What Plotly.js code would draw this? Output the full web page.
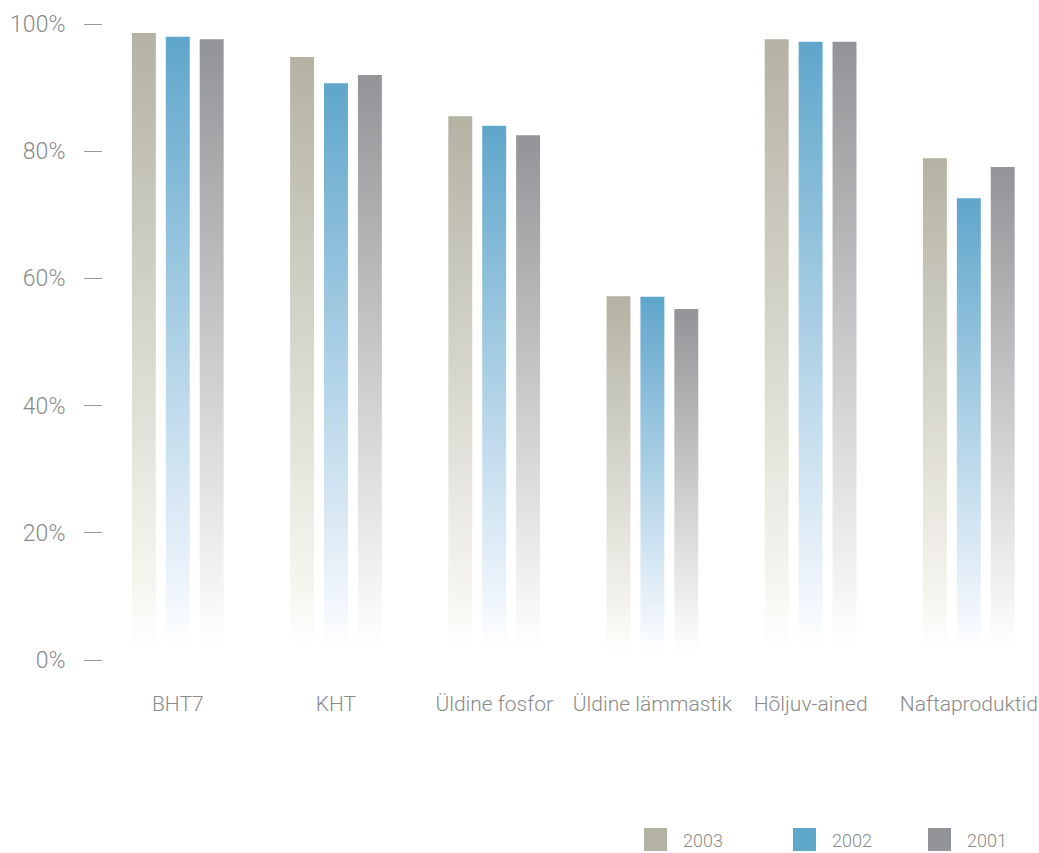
<!DOCTYPE html>
<html>
<head>
<meta charset="utf-8">
<script src="https://cdn.plot.ly/plotly-3.0.1.min.js"></script>
<style>
  html, body { margin: 0; padding: 0; background: #ffffff; }
  #chart { width: 1039px; height: 853px; }
</style>
</head>
<body>
<div id="chart"></div>
<script>
// ---- data ----
var categories = ["BHT7", "KHT", "Üldine fosfor", "Üldine lämmastik", "Hõljuv-ained", "Naftaproduktid"];
var seriesNames = ["2003", "2002", "2001"];
var values2003 = [98.6, 94.8, 85.5, 57.2, 97.6, 78.9];
var values2002 = [98.0, 90.7, 84.0, 57.1, 97.2, 72.6];
var values2001 = [97.6, 92.0, 82.5, 55.2, 97.2, 77.5];
var yTickValues = [0, 20, 40, 60, 80, 100];
var yTickLabels = ["0%", "20%", "40%", "60%", "80%", "100%"];

// ---- styles ----
var topColors = ["#b3b2a3", "#5fa6cb", "#939497"];
var tintColors = ["#f6f5f0", "#eef4fb", "#f4f4f4"];
var textColor = "#8a8a8a";
var fontFamily = "Roboto, 'Open Sans', sans-serif";

var W = 1039, H = 853;
var M = {l: 103, r: 0, t: 24, b: 193};
var plotW = W - M.l - M.r, plotH = H - M.t - M.b;
function px2paperX(px) { return (px - M.l) / plotW; }
function px2paperY(py) { return (H - M.b - py) / plotH; }

var allValues = [values2003, values2002, values2001];
var traces = allValues.map(function (vals, i) {
  return {
    type: "bar",
    name: seriesNames[i],
    x: categories,
    y: vals,
    marker: {color: topColors[i], line: {width: 0}},
    hoverinfo: "x+y+name",
    showlegend: false
  };
});

// manual legend (large square swatches)
var legendSwatchX = [644, 793, 928];
var shapes = [], annotations = [];
seriesNames.forEach(function (name, i) {
  shapes.push({
    type: "rect", xref: "paper", yref: "paper",
    x0: px2paperX(legendSwatchX[i]), x1: px2paperX(legendSwatchX[i] + 23),
    y0: px2paperY(851), y1: px2paperY(828),
    fillcolor: topColors[i], line: {width: 0}
  });
  annotations.push({
    xref: "paper", yref: "paper",
    x: px2paperX(legendSwatchX[i] + 37), y: px2paperY(840),
    xanchor: "left", yanchor: "middle",
    text: name, showarrow: false,
    font: {family: fontFamily, size: 18, color: textColor, weight: 300}
  });
});

var layout = {
  width: W, height: H,
  margin: M,
  paper_bgcolor: "#ffffff",
  plot_bgcolor: "#ffffff",
  barmode: "group",
  bargap: 0.357,
  bargroupgap: 0.294,
  showlegend: false,
  font: {family: fontFamily, color: textColor, size: 19, weight: 300},
  xaxis: {
    type: "category",
    range: [-0.4726, 5.4436],
    showgrid: false, zeroline: false, showline: false,
    ticks: "",
    ticklabelstandoff: 29,
    tickfont: {family: fontFamily, size: 21, color: textColor, weight: 300},
    fixedrange: true
  },
  yaxis: {
    range: [0, 100],
    tickvals: yTickValues,
    ticktext: yTickLabels,
    showgrid: false, zeroline: false, showline: false,
    ticks: "outside", ticklen: 18, tickwidth: 1, tickcolor: "#9a9a9a",
    ticklabelstandoff: 14,
    tickfont: {family: fontFamily, size: 23, color: textColor, weight: 300},
    fixedrange: true
  },
  shapes: shapes,
  annotations: annotations
};

Plotly.newPlot("chart", traces, layout, {displayModeBar: false, staticPlot: true}).then(function (gd) {
  var svg = gd.querySelector(".main-svg");
  var ns = "http://www.w3.org/2000/svg";
  var defs = svg.querySelector("defs") || svg.insertBefore(document.createElementNS(ns, "defs"), svg.firstChild);
  topColors.forEach(function (c, i) {
    var lg = document.createElementNS(ns, "linearGradient");
    lg.setAttribute("id", "barGrad" + i);
    lg.setAttribute("x1", "0"); lg.setAttribute("y1", "0");
    lg.setAttribute("x2", "0"); lg.setAttribute("y2", "1");
    var stops = [[0, c, 1], [0.88, tintColors[i], 1], [0.98, "#ffffff", 1], [1, "#ffffff", 1]];
    stops.forEach(function (s) {
      var st = document.createElementNS(ns, "stop");
      st.setAttribute("offset", s[0]);
      st.setAttribute("stop-color", s[1]);
      st.setAttribute("stop-opacity", s[2]);
      lg.appendChild(st);
    });
    defs.appendChild(lg);
  });
  var barTraces = gd.querySelectorAll(".barlayer .trace");
  barTraces.forEach(function (t, i) {
    t.querySelectorAll("path").forEach(function (p) {
      p.style.fill = "url(#barGrad" + i + ")";
    });
  });
});
</script>
</body>
</html>
